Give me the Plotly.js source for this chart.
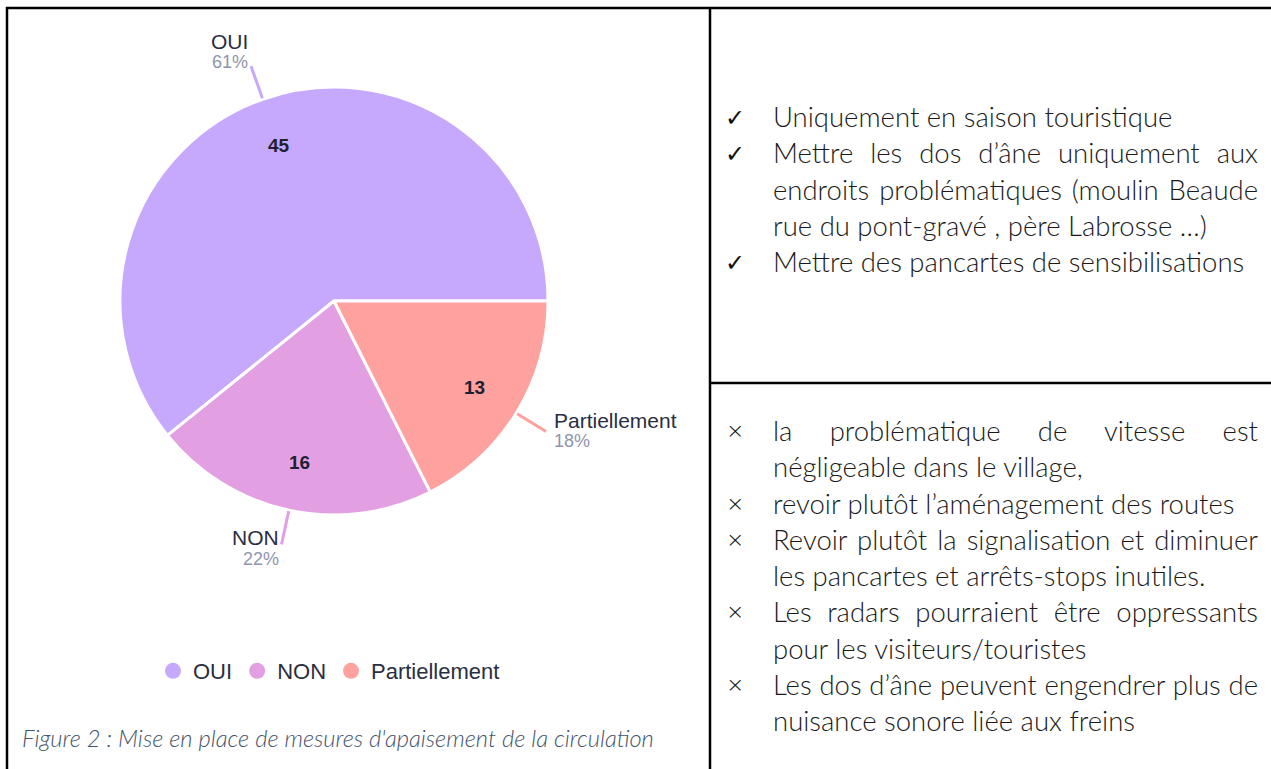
<!DOCTYPE html>
<html>
<head>
<meta charset="utf-8">
<script src="https://cdn.plot.ly/plotly-3.0.1.min.js"></script>
<style>
  html, body { margin:0; padding:0; background:#fff; }
  body { width:1271px; height:769px; overflow:hidden; position:relative; }
  #chart { position:absolute; left:0; top:0; width:1271px; height:769px; }
  .block { position:absolute; left:725px; width:533px; font-family:Lato, "Open Sans", sans-serif; font-weight:300; font-size:27.5px; line-height:36.3px; color:#1a1a1a; }
  .item { position:relative; padding-left:48px; }
  .mark { position:absolute; left:0; top:0; width:30px; color:#111; }
  .mark.ok { font-family:"DejaVu Sans", sans-serif; font-size:24px; top:1px; }
  .mark.no { font-family:"DejaVu Sans", sans-serif; font-size:22px; left:1px; }
  .ln { white-space:nowrap; }
  .ln.j { text-align:justify; text-align-last:justify; }
</style>
</head>
<body>
<div id="chart"></div>
<div id="pos" class="block" style="top:99px"></div>
<div id="neg" class="block" style="top:413px"></div>
<script>
// ---- data ----
const labels = ['OUI', 'NON', 'Partiellement'];
const values = [45, 16, 13];
const colors = ['#C6A9FD', '#E2A0E3', '#FEA19F'];
const caption = "Figure 2 : Mise en place de mesures d'apaisement de la circulation";
const posItems = [
  ["Uniquement en saison touristique"],
  ["Mettre les dos d’âne uniquement aux", "endroits problématiques (moulin Beaude", "rue du pont-gravé , père Labrosse …)"],
  ["Mettre des pancartes de sensibilisations"]
];
const negItems = [
  ["la problématique de vitesse est", "négligeable dans le village,"],
  ["revoir plutôt l’aménagement des routes"],
  ["Revoir plutôt la signalisation et diminuer", "les pancartes et arrêts-stops inutiles."],
  ["Les radars pourraient être oppressants", "pour les visiteurs/touristes"],
  ["Les dos d’âne peuvent engendrer plus de", "nuisance sonore liée aux freins"]
];

// ---- geometry (layout) ----
const W = 1271, H = 769;
const CX = 334, CY = 301, R = 214;
const px = x => x / W;
const py = y => 1 - y / H;
const FONT = 'Liberation Sans, Arial, sans-serif';

const total = values.reduce((a, b) => a + b, 0);
const annotations = [];
const shapes = [];
let cum = 0;
values.forEach((v, i) => {
  const mid = (cum + v / 2) / total * 2 * Math.PI;
  cum += v;
  const c = Math.cos(mid), s = Math.sin(mid);
  // inside value
  const ri = R * 0.77;
  annotations.push({
    xref: 'paper', yref: 'paper', x: px(CX + ri * c), y: py(CY - ri * s),
    text: String(v), showarrow: false, xanchor: 'center', yanchor: 'middle',
    font: { family: FONT, size: 19, color: '#1d2033', weight: 600 }
  });
  // leader line
  const x0 = CX + (R + 1) * c, y0 = CY - (R + 1) * s;
  const x1 = CX + (R + 35) * c, y1 = CY - (R + 35) * s;
  shapes.push({ type: 'line', xref: 'paper', yref: 'paper', x0: px(x0), y0: py(y0), x1: px(x1), y1: py(y1),
    line: { color: colors[i], width: 3 } });
  const left = c < 0;
  const tx = x1 + (left ? -1 : 6);
  const nameY = y1 - 16 - 9.4 * s;
  const pct = Math.round(v / total * 100) + '%';
  annotations.push({
    xref: 'paper', yref: 'paper', x: px(tx), y: py(nameY), text: labels[i], showarrow: false,
    xanchor: left ? 'right' : 'left', yanchor: 'middle',
    font: { family: FONT, size: 21, color: '#2a2e42' }
  });
  annotations.push({
    xref: 'paper', yref: 'paper', x: px(tx), y: py(nameY + 21), text: pct, showarrow: false,
    xanchor: left ? 'right' : 'left', yanchor: 'middle',
    font: { family: FONT, size: 18, color: '#9095ad' }
  });
});

// caption
annotations.push({
  xref: 'paper', yref: 'paper', x: px(20), y: py(738), text: caption, showarrow: false,
  xanchor: 'left', yanchor: 'middle',
  font: { family: 'Lato, sans-serif', size: 23.7, color: '#44546A', style: 'italic', weight: 300 }
});

// table borders
const bl = { color: '#000', width: 2.5 };
shapes.push({ type: 'line', xref: 'paper', yref: 'paper', x0: px(6), x1: px(W), y0: py(8), y1: py(8), line: bl });
shapes.push({ type: 'line', xref: 'paper', yref: 'paper', x0: px(7), x1: px(7), y0: py(7), y1: py(H), line: bl });
shapes.push({ type: 'line', xref: 'paper', yref: 'paper', x0: px(710), x1: px(710), y0: py(7), y1: py(H), line: bl });
shapes.push({ type: 'line', xref: 'paper', yref: 'paper', x0: px(710), x1: px(W), y0: py(383), y1: py(383), line: bl });

// Plotly places the first slice clockwise of `rotation` when direction is counterclockwise,
// so start at 3 o'clock minus the first slice's sweep.
const rotation = 90 - values[0] / total * 360;

const traces = [{
  type: 'pie', labels: labels, values: values, sort: false, direction: 'counterclockwise', rotation: rotation,
  marker: { colors: colors, line: { color: '#ffffff', width: 3 } },
  textinfo: 'none', hoverinfo: 'none', showlegend: false,
  domain: { x: [px(CX - R), px(CX + R)], y: [py(CY + R), py(CY - R)] }
}];
labels.forEach((l, i) => {
  traces.push({ type: 'scatter', mode: 'markers', x: [null], y: [null], name: l,
    marker: { color: colors[i], size: 18, symbol: 'circle' }, hoverinfo: 'none' });
});

const layout = {
  width: W, height: H, margin: { l: 0, r: 0, t: 0, b: 0 },
  paper_bgcolor: 'rgba(0,0,0,0)', plot_bgcolor: 'rgba(0,0,0,0)',
  xaxis: { visible: false }, yaxis: { visible: false },
  showlegend: true,
  legend: { orientation: 'h', x: px(153), xanchor: 'left', y: py(671), yanchor: 'middle',
    font: { family: FONT, size: 22, color: '#2a2e42' },
    bgcolor: 'rgba(0,0,0,0)' },
  annotations: annotations, shapes: shapes
};
Plotly.newPlot('chart', traces, layout, { staticPlot: true, displayModeBar: false });

// right column text
function fill(id, items, mark, cls) {
  const el = document.getElementById(id);
  items.forEach(lines => {
    const it = document.createElement('div');
    it.className = 'item';
    const m = document.createElement('span');
    m.className = 'mark ' + cls;
    m.textContent = mark;
    it.appendChild(m);
    lines.forEach((t, k) => {
      const d = document.createElement('div');
      d.className = 'ln' + (k < lines.length - 1 ? ' j' : '');
      d.textContent = t;
      it.appendChild(d);
    });
    el.appendChild(it);
  });
}
fill('pos', posItems, '✓', 'ok');
fill('neg', negItems, '×', 'no');
</script>
</body>
</html>
